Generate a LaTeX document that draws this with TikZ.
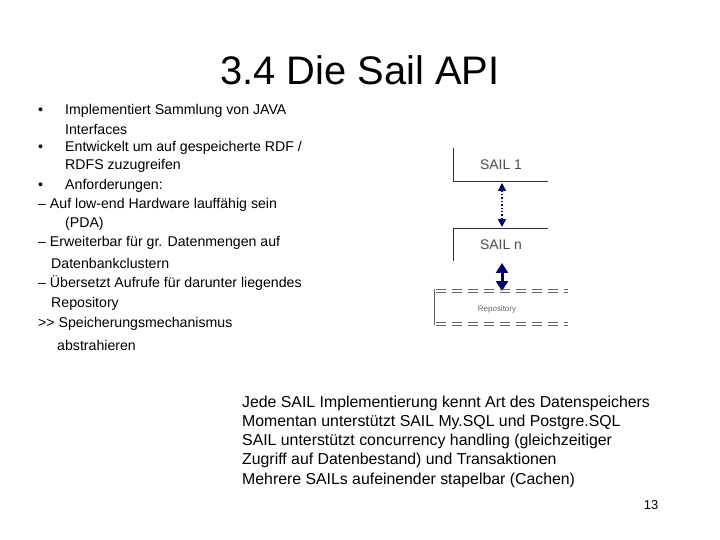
\documentclass[tikz,border=0pt]{standalone}
\usepackage{fontspec}
\setmainfont{Liberation Sans}[Ligatures=NoCommon]
\usetikzlibrary{arrows.meta}
\begin{document}
\begin{tikzpicture}[x=1bp,y=-1bp,
  txt/.style={anchor=west,font=\fontsize{14.2}{16}\selectfont,inner sep=0},
  rtxt/.style={anchor=west,font=\fontsize{15.9}{18}\selectfont,inner sep=0},
  ln/.style={draw=black!80,line width=0.8pt},
  repdash/.style={draw=black!60,line width=0.6pt,dash pattern=on 10bp off 6bp}]
\useasboundingbox (0,0) rectangle (720,540);
\node[font=\fontsize{40}{44}\selectfont] (title) at (360,70) {3.4 Die Sail API};
\node[txt] (b1) at (38,111) {•};
\node[txt] (l1) at (65,111) {Implementiert Sammlung von JAVA};
\node[txt] (l2) at (65,129) {Interfaces};
\node[txt] (b2) at (38,148) {•};
\node[txt] (l3) at (65,148) {Entwickelt um auf gespeicherte RDF /};
\node[txt] (l4) at (65,166) {RDFS zuzugreifen};
\node[txt] (b3) at (38,186) {•};
\node[txt] (l5) at (65,186) {Anforderungen:};
\node[txt] (l6) at (38,205) {– Auf low-end Hardware lauffähig sein};
\node[txt] (l7) at (65,224) {(PDA)};
\node[txt] (l8) at (38,243) {– Erweiterbar für gr. Datenmengen auf};
\node[txt] (l9) at (51,263) {Datenbankclustern};
\node[txt] (l10) at (38,283) {– Übersetzt Aufrufe für darunter liegendes};
\node[txt] (l11) at (51,304) {Repository};
\node[txt] (l12) at (38,324) {{>}{>} Speicherungsmechanismus};
\node[txt] (l13) at (57,345) {abstrahieren};
\node[rtxt] (r1) at (242,403) {Jede SAIL Implementierung kennt Art des Datenspeichers};
\node[rtxt] (r2) at (242,422) {Momentan unterstützt SAIL My.SQL und Postgre.SQL};
\node[rtxt] (r3) at (242,441) {SAIL unterstützt concurrency handling (gleichzeitiger};
\node[rtxt] (r4) at (242,460) {Zugriff auf Datenbestand) und Transaktionen};
\node[rtxt] (r5) at (242,480) {Mehrere SAILs aufeinender stapelbar (Cachen)};
\node[font=\fontsize{13}{15}\selectfont] (pg) at (651,505) {13};
% diagram
\draw[ln] (453,148) -- (453,181) -- (548,181);
\node[font=\fontsize{14}{16}\selectfont,text=black!70] (s1) at (501,165) {SAIL 1};
\draw[ln] (453,261) -- (453,228) -- (548,228);
\node[font=\fontsize{14}{16}\selectfont,text=black!70] (sn) at (501,245) {SAIL n};
\coordinate (a1) at (502,183);
\coordinate (a2) at (502,227);
\draw[draw=blue!40!black,line width=1.4pt,dotted,{Triangle[width=8pt,length=8pt]}-{Triangle[width=8pt,length=8pt]}] (a1) -- (a2);
\coordinate (c1) at (502,263);
\coordinate (c2) at (502,291);
\draw[draw=blue!40!black,line width=3pt,{Triangle[width=12pt,length=10pt]}-{Triangle[width=12pt,length=10pt]}] (c1) -- (c2);
\draw[repdash] (436,289) -- (568,289);
\draw[repdash] (436,292) -- (568,292);
\draw[repdash] (436,322) -- (568,322);
\draw[repdash] (436,325) -- (568,325);
\draw[draw=black!60,line width=0.6pt] (434,289) -- (434,325);
\node[font=\fontsize{8}{10}\selectfont,text=black!60] (rep) at (497,309) {Repository};
\end{tikzpicture}
\end{document}
